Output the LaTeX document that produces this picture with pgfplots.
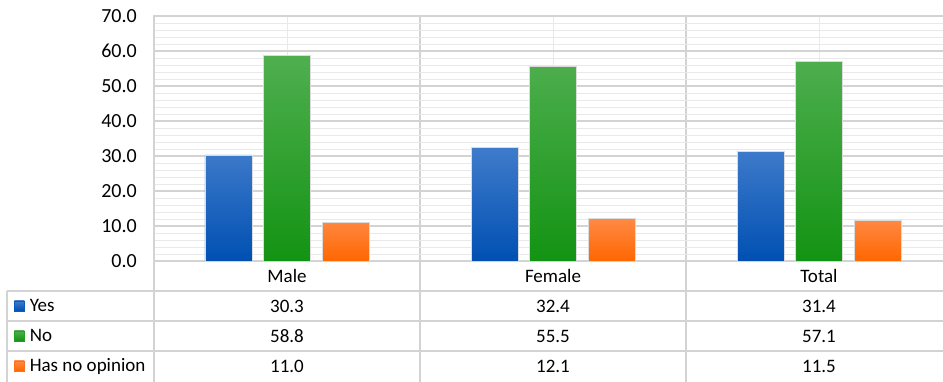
\documentclass[border=0pt]{standalone}
\usepackage{fontspec}
\setmainfont{Carlito}
\usepackage{pgfplots}
\usepackage{pgfplotstable}
\pgfplotsset{compat=1.18}

\definecolor{blueTop}{HTML}{3F7BCB}
\definecolor{blueBot}{HTML}{0050B2}
\definecolor{blueKey}{HTML}{0A5CC0}
\definecolor{greenTop}{HTML}{4FAF4F}
\definecolor{greenBot}{HTML}{139313}
\definecolor{greenKey}{HTML}{22A022}
\definecolor{orangeTop}{HTML}{FF8A45}
\definecolor{orangeBot}{HTML}{FF6600}
\definecolor{orangeKey}{HTML}{FF7020}
\definecolor{gridMajor}{HTML}{D3D3D3}
\definecolor{gridMinor}{HTML}{E9E9E9}

% Share of answers (%) by group
\pgfplotstableread{
idx yes no none
0 30.3 58.8 11.0
1 32.4 55.5 12.1
2 31.4 57.1 11.5
}\opinion

\begin{document}
\begin{tikzpicture}[font=\fontsize{19}{22}\selectfont]
\useasboundingbox (0,0) rectangle (943pt,382pt);
\clip (0,0) rectangle (943pt,382pt);
\begin{axis}[
  at={(154pt,121pt)}, anchor=south west,
  scale only axis, width=798pt, height=245pt,
  xmin=-0.5, xmax=2.5, ymin=0, ymax=70,
  ybar=11.5pt, bar width=47pt,
  xtick={0,1,2}, xticklabels={Male,Female,Total},
  minor xtick={-0.5,0.5,1.5,2.5},
  ytick={0,10,...,70}, minor ytick={2,4,...,68},
  xmajorgrids, xminorgrids, ymajorgrids, yminorgrids,
  major x grid style={draw=gridMinor, line width=0.9pt},
  minor x grid style={draw=gridMajor, line width=1.3pt},
  major y grid style={draw=gridMajor, line width=1.3pt},
  minor y grid style={draw=gridMinor, line width=0.9pt},
  axis line style={draw=gridMajor, line width=1.3pt},
  major tick length=0pt, minor tick length=0pt,
  tick style={draw=none},
  yticklabel style={anchor=east, inner sep=0pt, xshift=-17pt,
    font=\fontsize{20}{22}\selectfont},
  xticklabel style={anchor=center, inner sep=0pt, yshift=-15pt},
  /pgf/number format/fixed,
  /pgf/number format/fixed zerofill,
  /pgf/number format/precision=1,
  /pgf/number format/assume math mode=true,
  legend cell align=left,
  legend style={at={(0,0)}, anchor=north west, xshift=-140pt, yshift=-30pt,
    draw=none, fill=none, inner sep=0pt, outer sep=0pt,
    row sep=0pt, column sep=5pt,
    nodes={inner sep=0pt, minimum height=30pt, anchor=west}},
]
\addplot[draw=black!14, line width=0.8pt, top color=blueTop, bottom color=blueBot,
  legend image code/.code={\fill[blueKey] (0pt,-5pt) rectangle (10pt,5pt);}]
  table[x=idx, y=yes] {\opinion};
\addlegendentry{Yes}
\addplot[draw=black!14, line width=0.8pt, top color=greenTop, bottom color=greenBot,
  legend image code/.code={\fill[greenKey] (0pt,-5pt) rectangle (10pt,5pt);}]
  table[x=idx, y=no] {\opinion};
\addlegendentry{No}
\addplot[draw=black!14, line width=0.8pt, top color=orangeTop, bottom color=orangeBot,
  legend image code/.code={\fill[orangeKey] (0pt,-5pt) rectangle (10pt,5pt);}]
  table[x=idx, y=none] {\opinion};
\addlegendentry{Has no opinion}
\end{axis}

% data table rules below the plot
\begin{scope}[draw=gridMajor, line width=1.3pt]
  \draw (7pt,91pt) -- (943pt,91pt);
  \draw (7pt,61pt) -- (943pt,61pt);
  \draw (7pt,31pt) -- (943pt,31pt);
  \draw (7pt,91pt) -- (7pt,0pt);
  \draw (154pt,121pt) -- (154pt,0pt);
  \draw (420pt,121pt) -- (420pt,0pt);
  \draw (686pt,121pt) -- (686pt,0pt);
\end{scope}

% data table values
\foreach \r/\xc in {0/287,1/553,2/819}{
  \pgfplotstablegetelem{\r}{yes}\of\opinion
  \node at (\xc pt,76pt) {\pgfplotsretval};
  \pgfplotstablegetelem{\r}{no}\of\opinion
  \node at (\xc pt,46pt) {\pgfplotsretval};
  \pgfplotstablegetelem{\r}{none}\of\opinion
  \node at (\xc pt,16pt) {\pgfplotsretval};
}
\end{tikzpicture}
\end{document}
